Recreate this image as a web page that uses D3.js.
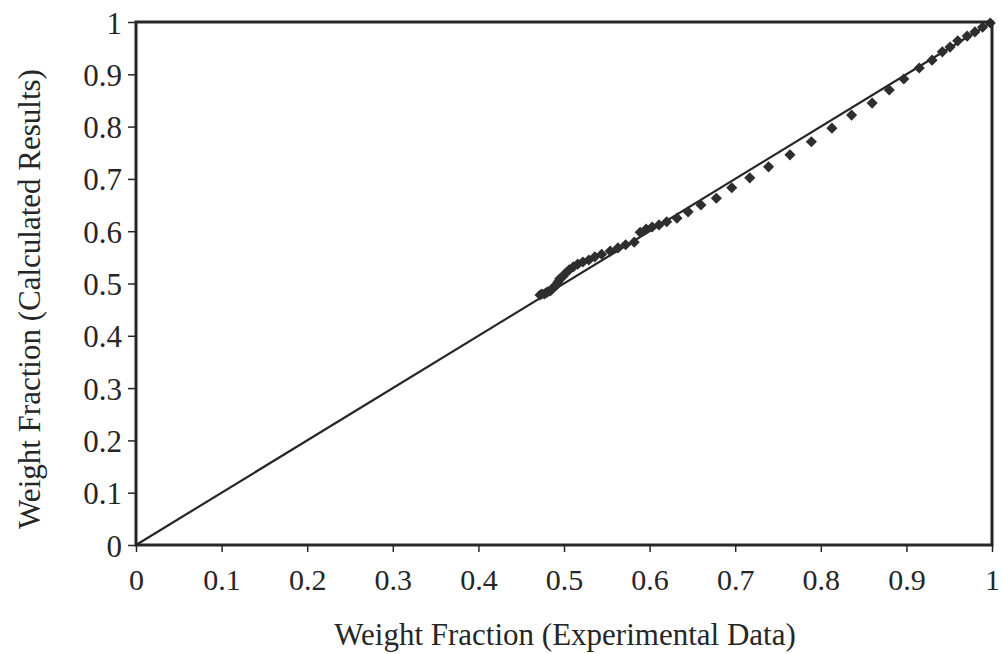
<!DOCTYPE html>
<html><head><meta charset="utf-8">
<script src="https://cdn.jsdelivr.net/npm/d3@7"></script>
<style>html,body{margin:0;padding:0;background:#fff;}svg{display:block;}</style>
</head><body>
<script>
const expX = [0.472,0.474,0.477,0.479,0.481,0.484,0.486,0.488,0.491,0.493,0.495,0.499,0.502,0.506,0.511,0.516,0.522,0.529,0.536,0.544,0.554,0.563,0.572,0.582,0.589,0.596,0.603,0.611,0.620,0.632,0.645,0.660,0.678,0.696,0.717,0.739,0.764,0.789,0.813,0.836,0.860,0.880,0.897,0.915,0.930,0.942,0.951,0.960,0.971,0.980,0.989,0.998];
const calcY = [0.478,0.480,0.480,0.482,0.484,0.486,0.489,0.493,0.497,0.503,0.509,0.514,0.520,0.526,0.532,0.537,0.541,0.545,0.551,0.556,0.562,0.568,0.574,0.579,0.598,0.604,0.608,0.612,0.618,0.625,0.637,0.650,0.663,0.683,0.702,0.723,0.746,0.771,0.797,0.822,0.845,0.870,0.891,0.912,0.927,0.943,0.952,0.964,0.973,0.981,0.990,0.998];
const tickValues = [0,0.1,0.2,0.3,0.4,0.5,0.6,0.7,0.8,0.9,1];
const tickLabels = ["0","0.1","0.2","0.3","0.4","0.5","0.6","0.7","0.8","0.9","1"];
const xTitle = "Weight Fraction (Experimental Data)";
const yTitle = "Weight Fraction (Calculated Results)";

const W = 1002, H = 654;
const L = 136, R = 992, T = 22, B = 545;
const svg = d3.select("body").append("svg").attr("width", W).attr("height", H);
const x = d3.scaleLinear().domain([0,1]).range([L,R]);
const y = d3.scaleLinear().domain([0,1]).range([B,T]);
const font = "'Liberation Serif', 'Times New Roman', serif";
const ink = "#262626";

// x axis
const xa = svg.append("g").attr("transform", `translate(0,${B})`)
  .call(d3.axisBottom(x).tickValues(tickValues).tickFormat((d,i)=>tickLabels[i]).tickSize(7));
xa.select(".domain").remove();
xa.selectAll("line").attr("stroke", ink).attr("stroke-width", 1.5);
xa.selectAll("text").attr("font-family", font).attr("font-size", 30).attr("fill", ink)
  .attr("y", 45).attr("dy", 0);

// y axis
const ya = svg.append("g").attr("transform", `translate(${L},0)`)
  .call(d3.axisLeft(y).tickValues(tickValues).tickFormat((d,i)=>tickLabels[i]).tickSize(8));
ya.select(".domain").remove();
ya.selectAll("line").attr("stroke", ink).attr("stroke-width", 1.5);
ya.selectAll("text").attr("font-family", font).attr("font-size", 31).attr("fill", ink)
  .attr("x", -14).attr("dy", 11);

// diagonal line
svg.append("line").attr("x1", x(0)).attr("y1", y(0)).attr("x2", x(1)).attr("y2", y(1))
  .attr("stroke", ink).attr("stroke-width", 2.2);

// points
const sym = d3.symbol().type(d3.symbolSquare).size(62);
svg.append("g").selectAll("path").data(expX.map((v,i)=>[v,calcY[i]])).join("path")
  .attr("d", sym).attr("transform", d=>`translate(${x(d[0])},${y(d[1])}) rotate(45)`)
  .attr("fill", "#2e2e2e");

// frame
svg.append("rect").attr("x", L).attr("y", T).attr("width", R-L).attr("height", B-T)
  .attr("fill", "none").attr("stroke", ink).attr("stroke-width", 3);

// titles
svg.append("text").attr("x", 565).attr("y", 645).attr("text-anchor", "middle")
  .attr("font-family", font).attr("font-size", 31).attr("fill", ink).text(xTitle);
svg.append("text").attr("transform", `translate(40,299) rotate(-90)`).attr("text-anchor", "middle")
  .attr("font-family", font).attr("font-size", 31).attr("fill", ink).text(yTitle);
</script>
</body></html>
